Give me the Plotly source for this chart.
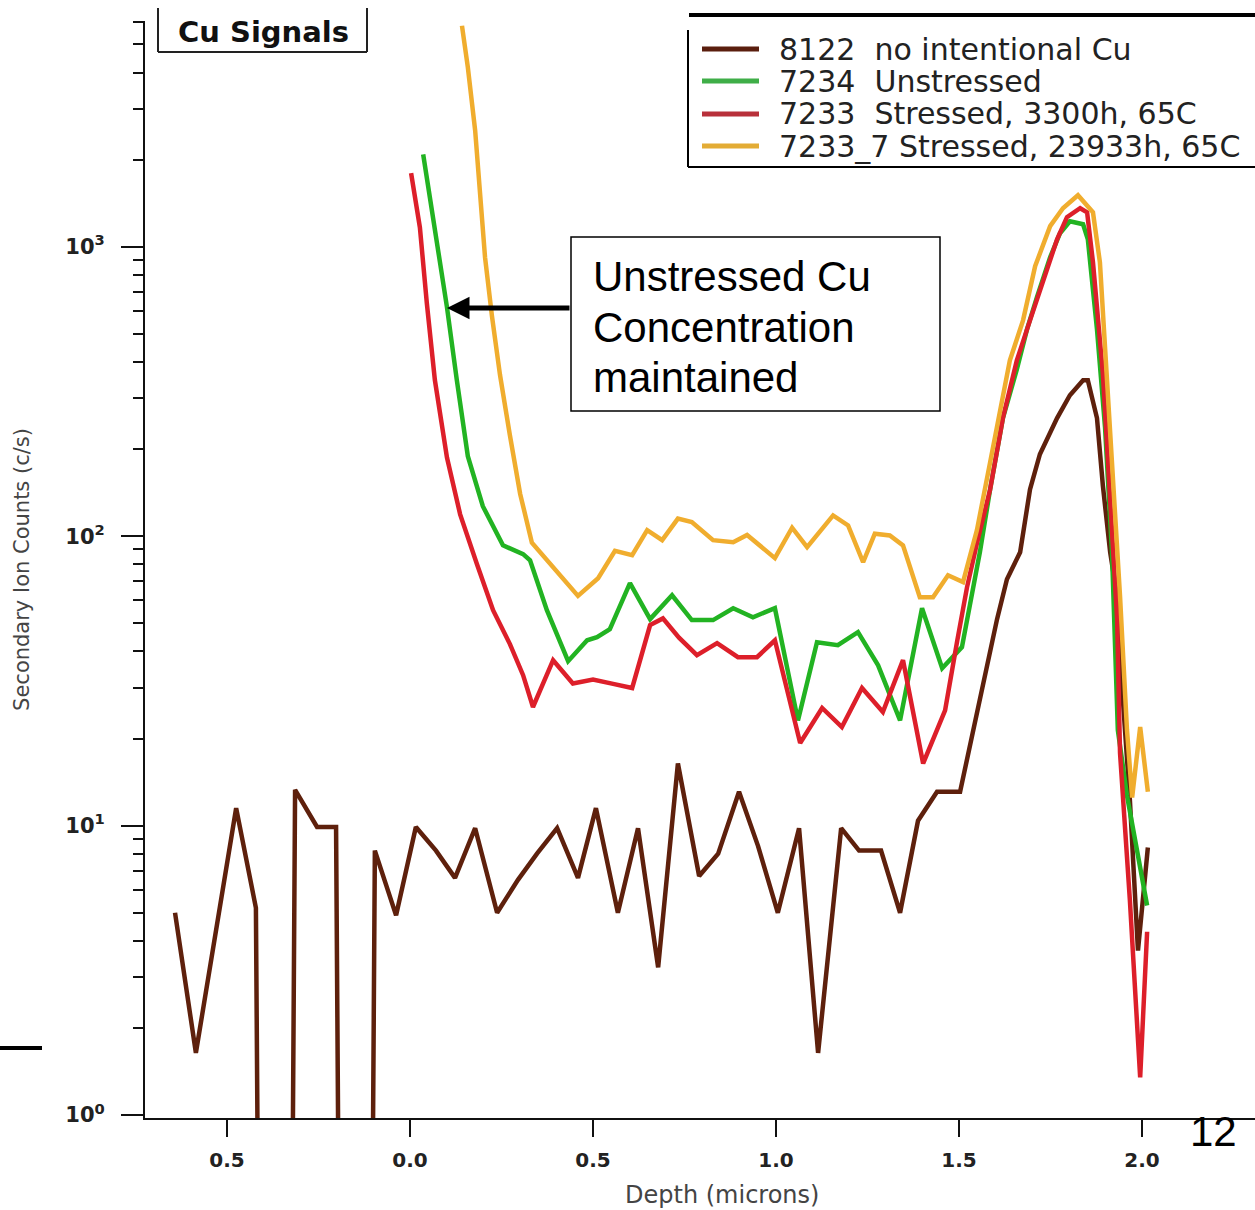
import plotly.graph_objects as go

# ---------------- data ----------------
series_names = [
    "8122\u00a0\u00a0no intentional Cu",
    "7234\u00a0\u00a0Unstressed",
    "7233\u00a0\u00a0Stressed, 3300h, 65C",
    "7233_7 Stressed, 23933h, 65C",
]
series_colors = ["#5e200c", "#22b322", "#dd1f2a", "#f0ad2e"]
legend_colors = ["#5a1e0e", "#3fae48", "#b8303a", "#e3ac35"]

depth_8122 = [-0.642, -0.585, -0.475, -0.421, -0.366, -0.314, -0.254, -0.202, -0.148, -0.096,
              -0.038, 0.016, 0.071, 0.123, 0.178, 0.238, 0.295, 0.347, 0.402, 0.459,
              0.508, 0.568, 0.623, 0.678, 0.732, 0.790, 0.842, 0.899, 0.951, 1.005,
              1.063, 1.115, 1.178, 1.227, 1.287, 1.339, 1.388, 1.440, 1.503, 1.538,
              1.577, 1.604, 1.631, 1.667, 1.694, 1.721, 1.768, 1.803, 1.839, 1.852,
              1.877, 1.893, 1.913, 1.932, 1.948, 1.967, 1.989, 2.016]
counts_8122 = [5.0, 1.64, 11.5, 5.2, 0, 13.3, 9.9, 9.9, 0, 8.2,
               4.9, 9.9, 8.2, 6.6, 9.8, 5.0, 6.5, 8.0, 9.8, 6.6,
               11.5, 5.0, 9.8, 3.24, 16.4, 6.7, 8.0, 13.1, 8.5, 5.0,
               9.8, 1.64, 9.8, 8.2, 8.2, 5.0, 10.4, 13.1, 13.1, 21.4,
               36.4, 51.7, 71, 88, 145, 192, 256, 307, 346, 346,
               256, 150, 88, 62, 27, 12.2, 3.7, 8.4]

depth_7234 = [0.036, 0.068, 0.101, 0.128, 0.158, 0.199, 0.254, 0.309, 0.328, 0.374,
              0.432, 0.484, 0.511, 0.546, 0.601, 0.656, 0.716, 0.770, 0.828, 0.883,
              0.937, 0.997, 1.060, 1.112, 1.169, 1.224, 1.279, 1.339, 1.399, 1.454,
              1.508, 1.530, 1.557, 1.585, 1.620, 1.658, 1.686, 1.713, 1.749, 1.776,
              1.803, 1.839, 1.852, 1.877, 1.899, 1.918, 1.934, 1.959, 1.981, 2.014]
counts_7234 = [2086, 1167, 618, 346, 189, 127, 93, 86.7, 82.6, 55.5,
               37, 43.7, 44.8, 47.7, 68.8, 51.7, 62.5, 51.3, 51.3, 56.4,
               52.5, 56.4, 23.1, 43, 42, 46.6, 35.8, 23.1, 56.4, 35,
               41.4, 58, 88, 145, 256, 377, 519, 670, 920, 1114,
               1225, 1196, 1061, 519, 238, 88, 21.4, 12.7, 8.9, 5.3]

depth_7233 = [0.003, 0.027, 0.046, 0.068, 0.101, 0.137, 0.183, 0.227, 0.273, 0.309,
              0.336, 0.391, 0.445, 0.500, 0.555, 0.607, 0.656, 0.691, 0.735, 0.784,
              0.839, 0.896, 0.948, 0.997, 1.066, 1.126, 1.180, 1.235, 1.292, 1.347,
              1.402, 1.462, 1.495, 1.522, 1.549, 1.585, 1.620, 1.658, 1.694, 1.730,
              1.768, 1.795, 1.831, 1.850, 1.866, 1.893, 1.913, 1.932, 1.940, 1.967,
              1.995, 2.014]
counts_7233 = [1795, 1167, 638, 346, 187, 119, 80, 55.5, 42.4, 33.1,
               25.7, 37.3, 31, 32, 30.9, 29.9, 49.3, 52, 44.6, 38.8,
               42.7, 38.2, 38.2, 43.7, 19.3, 25.5, 21.9, 29.9, 24.7, 37.3,
               16.4, 25, 43.4, 66.7, 94.6, 145, 256, 405, 557, 772,
               1061, 1265, 1359, 1315, 884, 366, 126, 51.7, 17.8, 5.5,
               1.35, 4.3]

depth_7233_7 = [0.142, 0.158, 0.178, 0.191, 0.205, 0.224, 0.246, 0.273, 0.301, 0.333,
                0.459, 0.514, 0.560, 0.607, 0.648, 0.689, 0.732, 0.770, 0.828, 0.883,
                0.921, 0.997, 1.044, 1.085, 1.156, 1.197, 1.238, 1.270, 1.311, 1.347,
                1.393, 1.429, 1.470, 1.511, 1.549, 1.585, 1.612, 1.639, 1.675, 1.708,
                1.749, 1.784, 1.825, 1.866, 1.885, 1.904, 1.921, 1.940, 1.959, 1.973,
                1.995, 2.016]
counts_7233_7 = [5800, 4170, 2524, 1472, 920, 575, 360, 223, 140, 95,
                 62.2, 71.6, 89, 86, 105, 96.9, 115, 112, 96.9, 95.3,
                 101, 84, 107, 91.6, 118, 109, 81.3, 102, 100.6, 93,
                 61.5, 61.5, 73.3, 69.4, 105, 180, 275, 405, 557, 857,
                 1178, 1359, 1507, 1315, 884, 366, 150, 62, 21.4, 12.5,
                 21.9, 13.1]

x_tick_vals = [-0.5, 0.0, 0.5, 1.0, 1.5, 2.0]
x_tick_text = ["0.5", "0.0", "0.5", "1.0", "1.5", "2.0"]
y_tick_vals = [1, 10, 100, 1000]
y_tick_text = ["10<sup>0</sup>", "10<sup>1</sup>", "10<sup>2</sup>", "10<sup>3</sup>"]
y_minor_vals = [2, 3, 4, 5, 6, 7, 8, 9, 20, 30, 40, 50, 60, 70, 80, 90,
                200, 300, 400, 500, 600, 700, 800, 900, 2000, 3000, 4000, 5000, 6000]

x_title = "Depth (microns)"
y_title = "Secondary Ion Counts (c/s)"
note_lines = ["Unstressed Cu", "Concentration", "maintained"]

# ---------------- geometry ----------------
W, H = 1255, 1210
L, R, T, B = 145, 0, 21, 92
PW, PH = W - L - R, H - T - B


def xp(px):
    return (px - L) / PW


def yp(py):
    return (H - B - py) / PH


fig = go.Figure()
all_depths = [depth_8122, depth_7234, depth_7233, depth_7233_7]
all_counts = [counts_8122, counts_7234, counts_7233, counts_7233_7]
for d, c, name, color in zip(all_depths, all_counts, series_names, series_colors):
    # zero counts fall below the log axis (drawn as vertical drops)
    yplot = [v if v > 0 else 1e-9 for v in c]
    fig.add_trace(go.Scatter(x=d, y=yplot, mode="lines", name=name,
                             line=dict(color=color, width=4.5),
                             showlegend=False))

shapes = []
annotations = []

# legend (manual, to match the Igor-style legend box)
shapes.append(dict(type="line", xref="paper", yref="paper", x0=xp(689), x1=xp(1256),
                   y0=yp(15), y1=yp(15), line=dict(color="black", width=4)))
shapes.append(dict(type="line", xref="paper", yref="paper", x0=xp(688), x1=xp(688),
                   y0=yp(30), y1=yp(167), line=dict(color="black", width=2)))
shapes.append(dict(type="line", xref="paper", yref="paper", x0=xp(688), x1=xp(1256),
                   y0=yp(167), y1=yp(167), line=dict(color="black", width=2)))
row_y = [49, 81, 114, 146]
for ry, name, lc in zip(row_y, series_names, legend_colors):
    shapes.append(dict(type="line", xref="paper", yref="paper", x0=xp(702), x1=xp(759),
                       y0=yp(ry), y1=yp(ry), line=dict(color=lc, width=5)))
    annotations.append(dict(xref="paper", yref="paper", x=xp(777), y=yp(ry),
                            xanchor="left", yanchor="middle", text=name, showarrow=False,
                            font=dict(family="DejaVu Sans", size=30, color="#222222")))

# "Cu Signals" tag
for x0, y0, x1, y1 in [(158, 8, 158, 52), (367, 8, 367, 52), (158, 52, 367, 52)]:
    shapes.append(dict(type="line", xref="paper", yref="paper", x0=xp(x0), x1=xp(x1),
                       y0=yp(y0), y1=yp(y1), line=dict(color="#222222", width=2)))
annotations.append(dict(xref="paper", yref="paper", x=xp(263), y=yp(32),
                        xanchor="center", yanchor="middle", text="<b>Cu Signals</b>",
                        showarrow=False,
                        font=dict(family="DejaVu Sans", size=29, color="#111111")))

# callout box
shapes.append(dict(type="rect", xref="paper", yref="paper", x0=xp(571), x1=xp(940),
                   y0=yp(411), y1=yp(237), line=dict(color="black", width=1.5),
                   fillcolor="white"))
for ly, txt in zip([276, 327, 378], note_lines):
    annotations.append(dict(xref="paper", yref="paper", x=xp(591), y=yp(ly),
                            xanchor="left", yanchor="middle", text=txt, showarrow=False,
                            font=dict(family="Liberation Sans", size=42, color="black")))
annotations.append(dict(xref="paper", yref="paper", x=xp(447), y=yp(308),
                        ax=124, ay=0, text="", showarrow=True, arrowhead=2,
                        arrowsize=0.9, arrowwidth=5, arrowcolor="black",
                        standoff=0, startstandoff=0))

# x-axis title, sitting low near the page edge as in the reference
annotations.append(dict(xref="paper", yref="paper", x=xp(722), y=yp(1195),
                        xanchor="center", yanchor="middle", text=x_title, showarrow=False,
                        font=dict(family="DejaVu Sans", size=24, color="#444444")))

# slide page number and stray mark
annotations.append(dict(xref="paper", yref="paper", x=xp(1213), y=yp(1131),
                        xanchor="center", yanchor="middle", text="12", showarrow=False,
                        font=dict(family="Liberation Sans", size=42, color="black")))
shapes.append(dict(type="line", xref="paper", yref="paper", x0=xp(0), x1=xp(42),
                   y0=yp(1048), y1=yp(1048), line=dict(color="black", width=4)))

fig.update_layout(
    width=W, height=H,
    margin=dict(l=L, r=R, t=T, b=B, pad=0, autoexpand=False),
    paper_bgcolor="white", plot_bgcolor="white",
    showlegend=False,
    shapes=shapes, annotations=annotations,
)
fig.update_xaxes(
    range=[(L - 410) / 366, (W - R - 410) / 366],
    automargin=False,
    showline=True, linecolor="#111111", linewidth=2, mirror=False,
    ticks="outside", ticklen=17, tickwidth=2, tickcolor="#111111",
    tickvals=x_tick_vals, ticktext=x_tick_text,
    tickfont=dict(family="DejaVu Sans", size=20, color="#222222", weight="bold"),
    ticklabelstandoff=6,
    showgrid=False, zeroline=False,
)
fig.update_yaxes(
    type="log", range=[-0.01, 3.78],
    automargin=False,
    showline=True, linecolor="#111111", linewidth=2,
    ticks="outside", ticklen=22, tickwidth=2, tickcolor="#111111",
    tickvals=y_tick_vals, ticktext=y_tick_text,
    tickfont=dict(family="DejaVu Sans", size=21, color="#222222", weight="bold"),
    ticklabelstandoff=12,
    minor=dict(tickvals=y_minor_vals, ticks="outside", ticklen=10, tickwidth=2,
               tickcolor="#111111", showgrid=False),
    showgrid=False, zeroline=False,
    title=dict(text=y_title, standoff=30,
               font=dict(family="DejaVu Sans", size=21, color="#444444")),
)

fig.write_html("out.html")
